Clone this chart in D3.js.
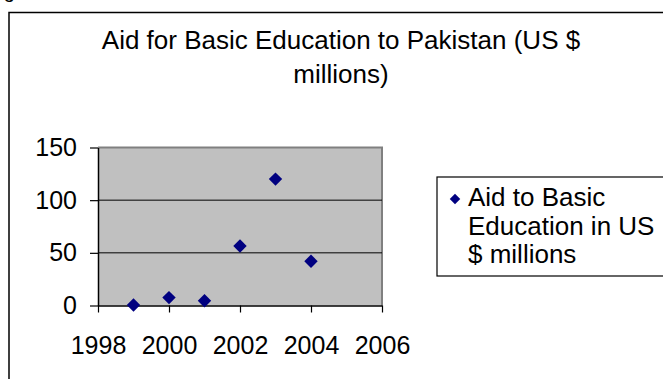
<!DOCTYPE html>
<html>
<head>
<meta charset="utf-8">
<script src="https://cdn.jsdelivr.net/npm/d3@7"></script>
<style>
  body { margin: 0; background: #fff; }
  svg { display: block; font-family: "Liberation Sans", Arial, sans-serif; }
</style>
</head>
<body>
<svg id="chart" width="663" height="379"></svg>
<script>
// data
const years = [1999, 2000, 2001, 2002, 2003, 2004];
const aid = [0.5, 7.5, 4.5, 56.5, 120, 42];
const xTicks = [1998, 2000, 2002, 2004, 2006];
const yTicks = [0, 50, 100, 150];
const titleLines = ['Aid for Basic Education to Pakistan (US $', 'millions)'];
const legendLines = ['Aid to Basic', 'Education in US', '$ millions'];

const svg = d3.select('#chart');

const plot = {left: 98, right: 382, top: 147.5, bottom: 305.5};

const x = d3.scaleLinear().domain([1998, 2006]).range([plot.left, plot.right]);
const y = d3.scaleLinear().domain([0, 150]).range([plot.bottom, plot.top]);

// cut-off caption above the frame
svg.append('text')
    .attr('x', 15).attr('y', -2)
    .attr('text-anchor', 'end')
    .attr('font-size', 20)
    .text('Fig');

// outer chart frame (runs off the page right and bottom)
svg.append('rect')
    .attr('x', 9).attr('y', 12.5)
    .attr('width', 700).attr('height', 400)
    .attr('fill', 'none')
    .attr('stroke', '#000')
    .attr('stroke-width', 1.5);

// title
svg.append('g').selectAll('text')
    .data(titleLines)
  .enter().append('text')
    .attr('x', 341)
    .attr('y', (d, i) => 49 + i * 34)
    .attr('text-anchor', 'middle')
    .attr('font-size', 26)
    .attr('fill', '#000')
    .text((d) => d);

// plot area
svg.append('rect')
    .attr('x', plot.left).attr('y', plot.top)
    .attr('width', plot.right - plot.left)
    .attr('height', plot.bottom - plot.top)
    .attr('fill', '#c0c0c0');

svg.append('path')
    .attr('d', 'M' + plot.left + ',' + plot.top + 'H' + plot.right + 'V' + plot.bottom)
    .attr('fill', 'none')
    .attr('stroke', '#808080')
    .attr('stroke-width', 2);

// gridlines
svg.append('g').selectAll('line')
    .data(yTicks.filter((d) => d > 0 && d < 150))
  .enter().append('line')
    .attr('x1', plot.left).attr('x2', plot.right)
    .attr('y1', (d) => y(d)).attr('y2', (d) => y(d))
    .attr('stroke', '#000')
    .attr('stroke-width', 1);

// axes
const xAxis = svg.append('g')
    .attr('transform', 'translate(0,' + plot.bottom + ')')
    .call(d3.axisBottom(x).tickValues(xTicks).tickFormat(d3.format('d')).tickSize(7).tickSizeOuter(0));

const yAxis = svg.append('g')
    .attr('transform', 'translate(' + plot.left + ',0)')
    .call(d3.axisLeft(y).tickValues(yTicks).tickSize(8).tickSizeOuter(0));

[xAxis, yAxis].forEach((ax) => {
  ax.select('.domain').attr('stroke', '#000').attr('stroke-width', 1.5);
  ax.selectAll('.tick line').attr('stroke', '#000').attr('stroke-width', 1.2);
  ax.selectAll('.tick text')
      .attr('font-family', '"Liberation Sans", Arial, sans-serif')
      .attr('font-size', 25)
      .attr('fill', '#000');
});
xAxis.selectAll('.tick text').attr('y', 0).attr('dy', 0).attr('transform', 'translate(0,48)');
yAxis.selectAll('.tick text').attr('x', -21);

// points
const diamond = d3.symbol(d3.symbolSquare, 90);
svg.append('g').selectAll('path')
    .data(years.map((yr, i) => ({year: yr, value: aid[i]})))
  .enter().append('path')
    .attr('d', diamond)
    .attr('transform', (d) => 'translate(' + x(d.year) + ',' + y(d.value) + ') rotate(45)')
    .attr('fill', '#000080');

// legend
const legend = svg.append('g');
legend.append('rect')
    .attr('x', 437).attr('y', 177)
    .attr('width', 300).attr('height', 99)
    .attr('fill', '#fff')
    .attr('stroke', '#000')
    .attr('stroke-width', 1.2);
legend.append('path')
    .attr('d', d3.symbol(d3.symbolSquare, 55))
    .attr('transform', 'translate(455,199) rotate(45)')
    .attr('fill', '#000080');
legend.selectAll('text')
    .data(legendLines)
  .enter().append('text')
    .attr('x', 468)
    .attr('y', (d, i) => 206 + i * 28.5)
    .attr('font-size', 26)
    .attr('fill', '#000')
    .text((d) => d);
</script>
</body>
</html>
